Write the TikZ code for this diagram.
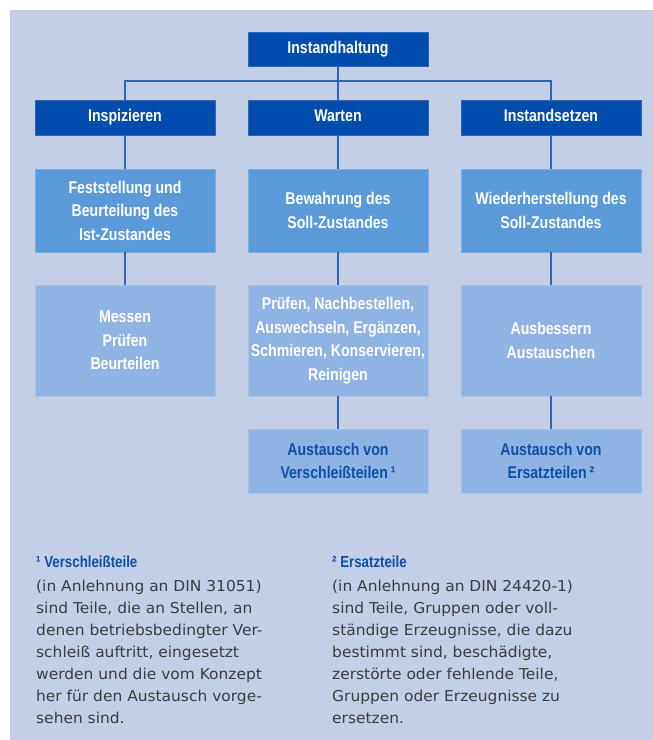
\documentclass[tikz,border=0pt]{standalone}
\usepackage{fontspec}
\newfontfamily\condf[FakeStretch=0.83]{Liberation Sans}
\newfontfamily\bodyf[FakeStretch=1.03]{DejaVu Sans}
\definecolor{bg}{HTML}{C3CFE6}
\definecolor{darkb}{HTML}{004DAE}
\definecolor{midb}{HTML}{5A9AD9}
\definecolor{lightb}{HTML}{8FB3E3}
\definecolor{connc}{HTML}{3463B2}
\definecolor{ftext}{HTML}{3C3C3C}
\definecolor{fhead}{HTML}{0E4FAA}
\begin{document}
\begin{tikzpicture}[x=1pt,y=-1pt,
  box/.style={minimum width=180pt, inner sep=0pt, align=center, text=white, line width=0.6pt,
    font=\condf\bfseries\fontsize{17}{23.5}\selectfont},
  lvlone/.style={box, fill=darkb, draw=darkb!85!white, minimum height=35pt, text height=12pt, text depth=3.5pt},
  lvltwo/.style={box, fill=midb, draw=midb!80!white, minimum height=83pt},
  lvlthree/.style={box, fill=lightb, draw=lightb!80!white, minimum height=111pt},
  lvlfour/.style={box, fill=lightb, draw=lightb!80!white, minimum height=64pt, text=fhead},
  connline/.style={draw=connc, line width=1.2pt},
  fnhead/.style={anchor=base west, inner sep=0pt, text=fhead, font=\condf\bfseries\fontsize{16}{18}\selectfont},
  fnbody/.style={anchor=north west, inner sep=0pt, align=left, text=ftext, font=\bodyf\fontsize{15}{22}\selectfont}
]
\useasboundingbox (0,0) rectangle (653,740);
\fill[bg] (10,10) rectangle (653,740);

% level 0
\node[lvlone, minimum height=34pt] (top) at (338,49) {Instandhaltung};
% level 1
\node[lvlone] (ins) at (125,117.5) {Inspizieren};
\node[lvlone] (war) at (338,117.5) {Warten};
\node[lvlone] (set) at (551,117.5) {Instandsetzen};
% level 2
\node[lvltwo] (insa) at (125,210.5) {Feststellung und\\Beurteilung des\\Ist-Zustandes};
\node[lvltwo] (wara) at (338,210.5) {Bewahrung des\\Soll-Zustandes};
\node[lvltwo] (seta) at (551,210.5) {Wiederherstellung des\\Soll-Zustandes};
% level 3
\node[lvlthree] (insb) at (125,340.5) {Messen\\Prüfen\\Beurteilen};
\node[lvlthree] (warb) at (338,340.5) {Prüfen, Nachbestellen,\\Auswechseln, Ergänzen,\\Schmieren, Konservieren,\\Reinigen};
\node[lvlthree] (setb) at (551,340.5) {Ausbessern\\Austauschen};
% level 4
\node[lvlfour] (warc) at (338,461) {Austausch von\\Verschleißteilen\,¹};
\node[lvlfour] (setc) at (551,461) {Austausch von\\Ersatzteilen\,²};

% connectors
\coordinate (busL) at (125,81);
\coordinate (busR) at (551,81);
\draw[connline] (top.south) -- (top.south |- busL);
\draw[connline] (ins.north) -- (busL) -- (busR) -- (set.north);
\draw[connline] (war.north) -- (war.north |- busL);
\draw[connline] (ins.south) -- (insa.north);
\draw[connline] (war.south) -- (wara.north);
\draw[connline] (set.south) -- (seta.north);
\draw[connline] (insa.south) -- (insb.north);
\draw[connline] (wara.south) -- (warb.north);
\draw[connline] (seta.south) -- (setb.north);
\draw[connline] (warb.south) -- (warc.north);
\draw[connline] (setb.south) -- (setc.north);

% footnotes
\node[fnhead] (fa) at (36,567) {¹ Verschleißteile};
\node[fnbody] (fab) at (36,580) {(in Anlehnung an DIN 31051)\\sind Teile, die an Stellen, an\\denen betriebsbedingter Ver-\\schleiß auftritt, eingesetzt\\werden und die vom Konzept\\her für den Austausch vorge-\\sehen sind.};
\node[fnhead] (fb) at (332,567) {² Ersatzteile};
\node[fnbody] (fbb) at (332,580) {(in Anlehnung an DIN 24420-1)\\sind Teile, Gruppen oder voll-\\ständige Erzeugnisse, die dazu\\bestimmt sind, beschädigte,\\zerstörte oder fehlende Teile,\\Gruppen oder Erzeugnisse zu\\ersetzen.};
\end{tikzpicture}
\end{document}
